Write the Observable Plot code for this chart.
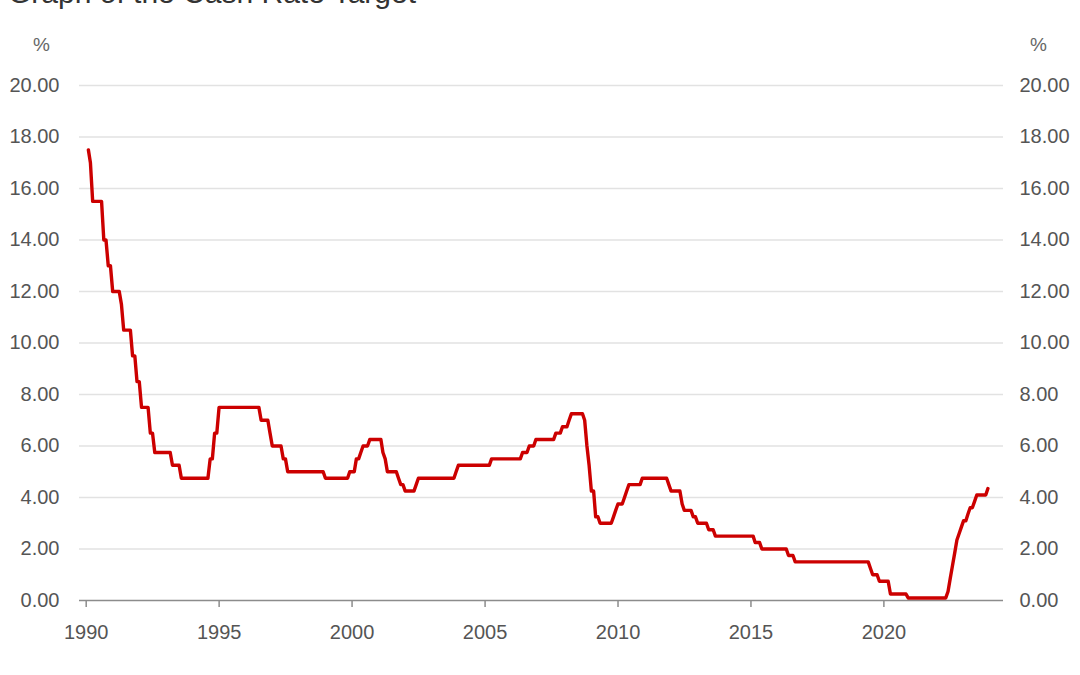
<!DOCTYPE html>
<html>
<head>
<meta charset="utf-8">
<script src="https://cdn.jsdelivr.net/npm/d3@7"></script>
<script src="https://cdn.jsdelivr.net/npm/@observablehq/plot@0.6"></script>
<style>
  body { margin: 0; background: #fff; font-family: "Liberation Sans", Arial, sans-serif; }
  #wrap { position: relative; width: 1080px; height: 675px; overflow: hidden; background: #fff; }
  #chart { position: absolute; left: 0; top: 0; z-index: 1; }
  #title { position: absolute; left: 8px; top: -24px; z-index: 2; font-size: 30px; line-height: 34px; color: #333; white-space: nowrap; }
</style>
</head>
<body>
<div id="wrap">
  <div id="chart"></div>
  <div id="title">Graph of the Cash Rate Target</div>
</div>
<script>
// Month in which each new cash rate target took effect (month-end values)
const changeMonths = [
  "1990-01","1990-02","1990-03","1990-08","1990-10","1990-12",
  "1991-04","1991-05","1991-09","1991-11",
  "1992-01","1992-05","1992-07",
  "1993-03","1993-07",
  "1994-08","1994-10","1994-12",
  "1996-07","1996-11","1996-12",
  "1997-05","1997-07",
  "1998-12",
  "1999-11",
  "2000-02","2000-04","2000-05","2000-08",
  "2001-02","2001-03","2001-04","2001-09","2001-10","2001-12",
  "2002-05","2002-06",
  "2003-11","2003-12",
  "2005-03",
  "2006-05","2006-08","2006-11",
  "2007-08","2007-11",
  "2008-02","2008-03","2008-09","2008-10","2008-11","2008-12",
  "2009-02","2009-04","2009-10","2009-11","2009-12",
  "2010-03","2010-04","2010-05","2010-11",
  "2011-11","2011-12",
  "2012-05","2012-06","2012-10","2012-12",
  "2013-05","2013-08",
  "2015-02","2015-05",
  "2016-05","2016-08",
  "2019-06","2019-07","2019-10",
  "2020-03","2020-11",
  "2022-05","2022-06","2022-07","2022-08","2022-09","2022-10","2022-11","2022-12",
  "2023-02","2023-03","2023-05","2023-06","2023-11"
];
// Cash rate target (%) from that month
const targets = [
  17.5, 17.0, 15.5, 14.0, 13.0, 12.0,
  11.5, 10.5, 9.5, 8.5,
  7.5, 6.5, 5.75,
  5.25, 4.75,
  5.5, 6.5, 7.5,
  7.0, 6.5, 6.0,
  5.5, 5.0,
  4.75,
  5.0,
  5.5, 5.75, 6.0, 6.25,
  5.75, 5.5, 5.0, 4.75, 4.5, 4.25,
  4.5, 4.75,
  5.0, 5.25,
  5.5,
  5.75, 6.0, 6.25,
  6.5, 6.75,
  7.0, 7.25, 7.0, 6.0, 5.25, 4.25,
  3.25, 3.0, 3.25, 3.5, 3.75,
  4.0, 4.25, 4.5, 4.75,
  4.5, 4.25,
  3.75, 3.5, 3.25, 3.0,
  2.75, 2.5,
  2.25, 2.0,
  1.75, 1.5,
  1.25, 1.0, 0.75,
  0.25, 0.10,
  0.35, 0.85, 1.35, 1.85, 2.35, 2.6, 2.85, 3.1,
  3.35, 3.6, 3.85, 4.1, 4.35
];
const lastMonth = "2023-11";
const yTicks = [0, 2, 4, 6, 8, 10, 12, 14, 16, 18, 20];
const xTickYears = [1990, 1995, 2000, 2005, 2010, 2015, 2020];

// Month-end date of "YYYY-MM"
function monthEnd(ym, offset = 0) {
  const [y, m] = ym.split("-").map(Number);
  return new Date(Date.UTC(y, m + offset, 0));
}
// Monthly series vertices: start of each level and the last month it held
const points = [];
changeMonths.forEach((ym, i) => {
  points.push({date: monthEnd(ym), rate: targets[i]});
  const endDate = i + 1 < changeMonths.length ? monthEnd(changeMonths[i + 1], -1) : monthEnd(lastMonth);
  if (endDate > monthEnd(ym)) points.push({date: endDate, rate: targets[i]});
});
const xTicks = xTickYears.map(y => new Date(Date.UTC(y, 0, 1)));

const font = "'Liberation Sans', Arial, sans-serif";
const chart = Plot.plot({
  width: 1080,
  height: 675,
  marginLeft: 79,
  marginRight: 77,
  marginTop: 85,
  marginBottom: 75,
  style: {fontFamily: font, fontSize: "20px", color: "#555", background: "#fff"},
  x: {type: "utc", domain: [new Date(Date.UTC(1989, 9, 1)), new Date(Date.UTC(2024, 6, 1))]},
  y: {domain: [0, 20]},
  marks: [
    Plot.gridY(yTicks.filter(d => d > 0), {stroke: "#e2e2e2", strokeOpacity: 1, strokeWidth: 1.5}),
    Plot.axisY(yTicks, {anchor: "left", tickSize: 0, tickPadding: 20, tickFormat: d => d.toFixed(2), label: null, fontSize: 20, fill: "#555"}),
    Plot.axisY(yTicks, {anchor: "right", tickSize: 0, tickPadding: 16, tickFormat: d => d.toFixed(2), label: null, fontSize: 20, fill: "#555"}),
    Plot.ruleY([0], {stroke: "#8c8c8c", strokeWidth: 1.5}),
    Plot.axisX(xTicks, {anchor: "bottom", tickSize: 7, tickPadding: 17, tickFormat: d3.utcFormat("%Y"), label: null, stroke: "#8c8c8c", strokeWidth: 1.5, fontSize: 20, fill: "#555"}),
    Plot.line(points, {x: "date", y: "rate", stroke: "#cc0000", strokeWidth: 3.4, strokeLinejoin: "round"}),
    Plot.text(["%"], {frameAnchor: "top-left", dx: -38, dy: -41, fontSize: 19, fill: "#666", textAnchor: "middle", lineAnchor: "middle"}),
    Plot.text(["%"], {frameAnchor: "top-right", dx: 35, dy: -41, fontSize: 19, fill: "#666", textAnchor: "middle", lineAnchor: "middle"})
  ]
});
document.getElementById("chart").appendChild(chart);
</script>
</body>
</html>
